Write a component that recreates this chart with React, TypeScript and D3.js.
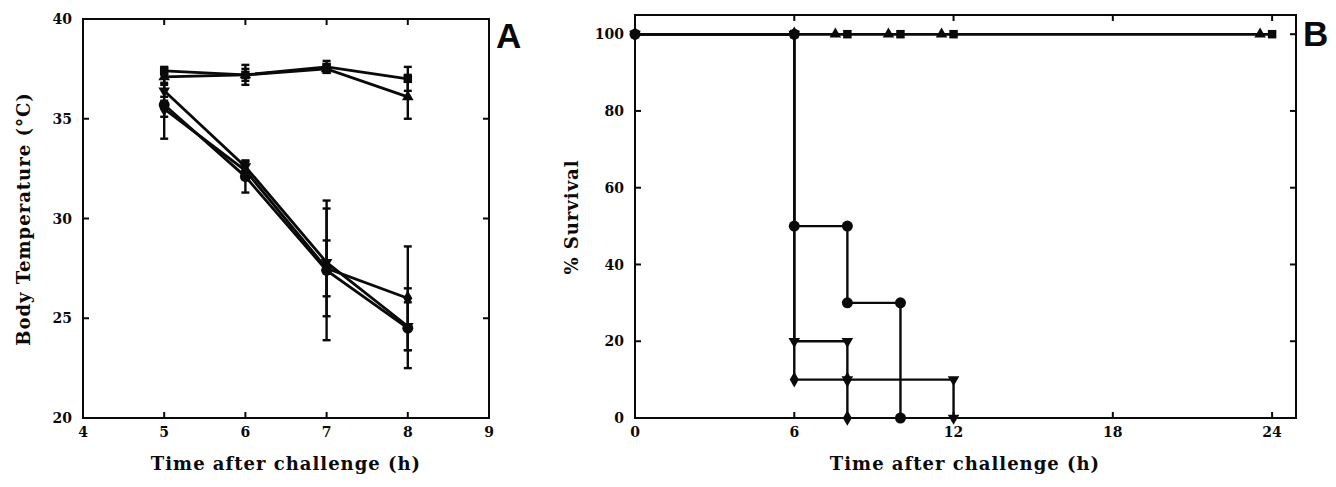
import React from 'react';
import * as d3 from 'd3';

// Panel A: body temperature
const hoursA = [5, 6, 7, 8];
const tempSquare = [37.4, 37.2, 37.6, 37.0];
const errSquare = [0.2, 0.5, 0.3, 0.6];
const tempTriUp = [37.1, 37.2, 37.5, 36.1];
const errTriUp = [0.3, 0.3, 0.2, 1.1];
const tempTriDown = [36.4, 32.6, 27.8, 24.6];
const errTriDown = [0.3, 0.3, 2.7, 1.2];
const tempDiamond = [35.5, 32.4, 27.5, 26.0];
const errDiamond = [0.4, 0.4, 1.4, 2.6];
const tempCircle = [35.7, 32.1, 27.4, 24.5];
const errCircle = [1.7, 0.8, 3.5, 2.0];
const ticksAX = [4, 5, 6, 7, 8, 9];
const ticksAY = [20, 25, 30, 35, 40];

// Panel B: survival (event times and survival after each event)
const timesSquare = [0, 6, 8, 10, 12, 24];
const survSquare = [100, 100, 100, 100, 100, 100];
const timesTriUp = [0, 6, 8, 10, 12, 24];
const survTriUp = [100, 100, 100, 100, 100, 100];
const timesCircle = [0, 6, 8, 10];
const survCircle = [100, 50, 30, 0];
const timesTriDown = [0, 6, 8, 12];
const survTriDown = [100, 20, 10, 0];
const timesDiamond = [0, 6, 8];
const survDiamond = [100, 10, 0];
const ticksBX = [0, 6, 12, 18, 24];
const ticksBY = [0, 20, 40, 60, 80, 100];

const serif = '"DejaVu Serif", serif';
const ink = '#0a0a0a';

const sym = (type: any, size: number) => d3.symbol().type(type).size(size)() as string;
const shapes: Record<string, { d: string; rot?: number }> = {
  square: { d: sym(d3.symbolSquare, 72) },
  triUp: { d: sym(d3.symbolTriangle, 58) },
  triDown: { d: sym(d3.symbolTriangle, 58), rot: 180 },
  diamond: { d: sym(d3.symbolDiamond, 70) },
  circle: { d: sym(d3.symbolCircle, 95) },
};

function Marker({ x, y, kind }: { x: number; y: number; kind: string }) {
  const s = shapes[kind];
  return <path d={s.d} transform={`translate(${x},${y})${s.rot ? ` rotate(${s.rot})` : ''}`} fill={ink} />;
}

function Frame({ x, y, xTicks, yTicks, xInner, yInner }: any) {
  const [x0, x1] = x.range();
  const [y0, y1] = y.range();
  const tl = 6;
  return (
    <g stroke={ink} strokeWidth={2} fill="none">
      <rect x={x0} y={y1} width={x1 - x0} height={y0 - y1} />
      {xInner.map((t: number) => (
        <g key={'x' + t}>
          <line x1={x(t)} x2={x(t)} y1={y0} y2={y0 - tl} />
          <line x1={x(t)} x2={x(t)} y1={y1} y2={y1 + tl} />
        </g>
      ))}
      {yInner.map((t: number) => (
        <g key={'y' + t}>
          <line x1={x0} x2={x0 + tl} y1={y(t)} y2={y(t)} />
          <line x1={x1} x2={x1 - tl} y1={y(t)} y2={y(t)} />
        </g>
      ))}
      <g stroke="none" fill={ink} fontFamily={serif} fontWeight="bold" fontSize={14}>
        {xTicks.map((t: number) => (
          <text key={'lx' + t} x={x(t)} y={y0 + 19} textAnchor="middle">{t}</text>
        ))}
        {yTicks.map((t: number) => (
          <text key={'ly' + t} x={x0 - 11} y={y(t)} dy="0.36em" textAnchor="end">{t}</text>
        ))}
      </g>
    </g>
  );
}

function PanelA() {
  const x = d3.scaleLinear().domain([4, 9]).range([83, 489]);
  const y = d3.scaleLinear().domain([20, 40]).range([418, 19]);
  const series = [
    { kind: 'square', v: tempSquare, e: errSquare },
    { kind: 'triUp', v: tempTriUp, e: errTriUp },
    { kind: 'triDown', v: tempTriDown, e: errTriDown },
    { kind: 'diamond', v: tempDiamond, e: errDiamond },
    { kind: 'circle', v: tempCircle, e: errCircle },
  ];
  const line = d3.line<number>().x((_, i) => x(hoursA[i])).y((d) => y(d));
  return (
    <g>
      <Frame x={x} y={y} xTicks={ticksAX} yTicks={ticksAY} xInner={[5, 6, 7, 8]} yInner={[25, 30, 35]} />
      {series.map((s) => (
        <path key={'l' + s.kind} d={line(s.v) as string} fill="none" stroke={ink} strokeWidth={2.8} />
      ))}
      {series.map((s) =>
        s.v.map((v, i) => {
          const cx = x(hoursA[i]);
          const lo = y(v - s.e[i]);
          const hi = y(v + s.e[i]);
          return (
            <g key={'e' + s.kind + i} stroke={ink} strokeWidth={2.4}>
              <line x1={cx} x2={cx} y1={lo} y2={hi} />
              <line x1={cx - 4} x2={cx + 4} y1={lo} y2={lo} />
              <line x1={cx - 4} x2={cx + 4} y1={hi} y2={hi} />
            </g>
          );
        })
      )}
      {series.map((s) =>
        s.v.map((v, i) => <Marker key={'m' + s.kind + i} x={x(hoursA[i])} y={y(v)} kind={s.kind} />)
      )}
      <text x={286} y={470} textAnchor="middle" fontFamily={serif} fontWeight="bold" fontSize={18} letterSpacing={1} fill={ink}>
        Time after challenge (h)
      </text>
      <text transform="translate(30,219) rotate(-90)" textAnchor="middle" fontFamily={serif} fontWeight="bold" fontSize={18} letterSpacing={1} fill={ink}>
        Body Temperature (°C)
      </text>
      <text x={496} y={48} fontFamily='"Liberation Sans", Arial, sans-serif' fontWeight="bold" fontSize={35} fill={ink}>A</text>
    </g>
  );
}

function corners(times: number[], surv: number[]) {
  const pts: [number, number][] = [];
  times.forEach((t, i) => {
    if (i > 0 && surv[i] !== surv[i - 1]) pts.push([t, surv[i - 1]]);
    pts.push([t, surv[i]]);
  });
  return pts;
}

function PanelB() {
  const x = d3.scaleLinear().domain([0, 24.9]).range([635, 1296]);
  const y = d3.scaleLinear().domain([0, 105]).range([418, 15]);
  const series = [
    { kind: 'square', t: timesSquare, s: survSquare, dx: 0 },
    { kind: 'triUp', t: timesTriUp, s: survTriUp, dx: -12 },
    { kind: 'diamond', t: timesDiamond, s: survDiamond, dx: 0 },
    { kind: 'triDown', t: timesTriDown, s: survTriDown, dx: 0 },
    { kind: 'circle', t: timesCircle, s: survCircle, dx: 0 },
  ];
  const step = d3.line<[number, number]>().x((d) => x(d[0])).y((d) => y(d[1])).curve(d3.curveStepAfter);
  return (
    <g>
      <Frame x={x} y={y} xTicks={ticksBX} yTicks={ticksBY} xInner={[6, 12, 18, 24]} yInner={[20, 40, 60, 80, 100]} />
      {series.map((s) => (
        <path key={'l' + s.kind} d={step(s.t.map((t, i) => [t, s.s[i]] as [number, number])) as string} fill="none" stroke={ink} strokeWidth={2.4} />
      ))}
      {series.map((s) =>
        corners(s.t, s.s)
          .filter((p) => !(s.dx !== 0 && p[0] <= 6))
          .map((p, i) => <Marker key={'m' + s.kind + i} x={x(p[0]) + s.dx} y={y(p[1])} kind={s.kind} />)
      )}
      <text x={965} y={470} textAnchor="middle" fontFamily={serif} fontWeight="bold" fontSize={18} letterSpacing={1} fill={ink}>
        Time after challenge (h)
      </text>
      <text transform="translate(578,217) rotate(-90)" textAnchor="middle" fontFamily={serif} fontWeight="bold" fontSize={18} letterSpacing={1} fill={ink}>
        % Survival
      </text>
      <text x={1303} y={46} fontFamily='"Liberation Sans", Arial, sans-serif' fontWeight="bold" fontSize={35} fill={ink}>B</text>
    </g>
  );
}

export default function App() {
  return (
    <svg width={1336} height={487} style={{ position: 'absolute', left: 0, top: 0, background: '#fff' }}>
      <PanelA />
      <PanelB />
    </svg>
  );
}
